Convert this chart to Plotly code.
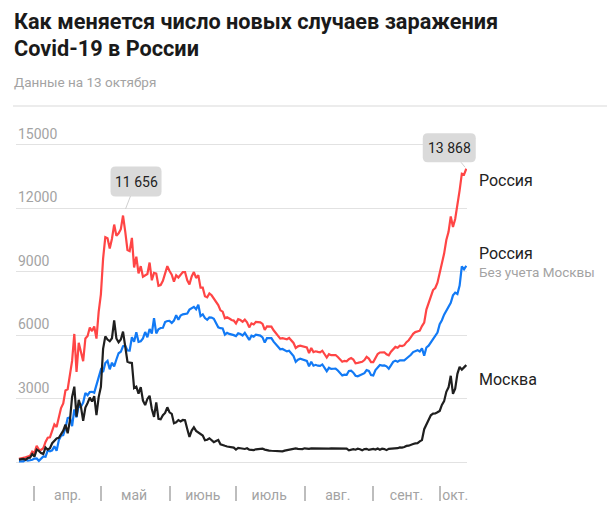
import pandas as pd
import plotly.graph_objects as go

# daily new cases, 25 Mar - 13 Oct 2020
dates = pd.date_range("2020-03-25", "2020-10-13", freq="D")

russia = [
    163, 182, 196, 228, 270, 302, 500,
    440, 771, 601, 582, 658, 954, 1154, 1175, 1459, 1786, 1667, 2186, 2558, 2774, 3388,
    3448, 4070, 4785, 6060, 4268, 5642, 5236, 4774, 5849, 5966, 6361, 6198, 6411, 5841, 7099,
    7933, 9623, 10633, 10581, 10102, 10559, 11231, 10699, 10817, 11012, 11656, 10899, 10028,
    9974, 10598, 9200, 9709, 8926, 9263, 8764, 8849, 8894, 9434, 8599, 8946, 8915, 8338, 8371,
    8572, 8952, 9268,
    9035, 8863, 8536, 8831, 8726, 8855, 8984, 8985, 8595, 8404, 8779, 8987, 8706, 8835, 8246,
    8248, 7843, 7790, 7972, 7889, 7728, 7600, 7425, 7176, 7113, 6800, 6852, 6791, 6719, 6693,
    6556, 6760, 6718, 6632, 6736, 6611, 6368, 6562, 6509, 6635, 6615, 6611, 6537, 6248, 6422,
    6428, 6406, 6234, 6109, 5940, 5842, 5862, 5848, 5811, 5871, 5765, 5635, 5395, 5475, 5509, 5482,
    5462, 5427, 5159, 5394, 5204, 5241, 5212, 5189, 5267, 5118, 4945, 5102, 5057, 5061, 5065,
    4969, 4839, 4748, 4790, 4767, 4870, 4921, 4852, 4676, 4696, 4711, 4744, 4829, 4980, 4897, 4729,
    4729, 4952, 5110, 5185, 5205, 5195, 5099, 5048, 5218, 5363, 5449, 5406, 5509, 5488, 5529,
    5670, 5762, 5905, 6065, 6148, 6196, 6215, 6431, 6595, 7212, 7523, 7867, 8135, 8232, 8481,
    8945, 9412, 9859, 10499, 10888, 11615, 11115, 11493, 12126, 12846, 13634, 13592, 13868,
]

moscow = [
    120, 136, 157, 114, 197, 212, 387,
    267, 595, 536, 434, 387, 697, 591, 660, 897, 1030, 1124, 1154, 1306, 1489, 1774,
    1370, 1959, 3083, 3570, 2151, 2950, 2612, 1959, 2580, 2800, 3050, 2870, 3125, 2220, 3075,
    3560, 5358, 5948, 5795, 5714, 5858, 6703, 5846, 5667, 5795, 6169, 5392, 4748,
    4703, 4691, 3505, 3570, 3238, 3545, 2913, 2697, 2988, 3140, 2516, 2140, 2830, 2054, 2030,
    2220, 2330, 2595,
    2358, 2286, 1842, 1882, 1990, 1925, 1995, 1986, 1572, 1195, 1492, 1645, 1477, 1393, 1338,
    1258, 1035, 1063, 1130, 1053, 948, 1000, 1049, 844, 794, 774, 742, 728, 705, 689,
    598, 672, 659, 643, 624, 659, 589, 582, 575, 608, 622, 629, 640, 596, 560,
    550, 541, 538, 519, 505, 506, 512, 548, 575, 603, 612, 621, 654, 631, 618, 616,
    655, 640, 630, 650, 645, 640, 650, 640, 648, 635, 642, 640, 650, 645, 640,
    638, 630, 645, 650, 640, 560, 600, 620, 590, 640, 610, 560, 620, 630, 580, 610,
    630, 600, 650, 590, 640, 620, 570, 630, 640, 620, 650, 660, 700, 690, 720,
    770, 780, 830, 860, 890, 900, 985, 1050, 1560, 1792, 2016, 2217, 2293, 2300, 2358,
    2424, 2704, 2884, 3327, 3537, 4082, 3229, 3478, 4176, 4501, 4375, 4480, 4590,
]

regions = [
    43, 46, 39, 114, 73, 90, 113,
    173, 176, 65, 148, 271, 257, 563, 515, 562, 756, 543, 1032, 1252, 1285, 1614,
    2078, 2111, 1702, 2490, 2117, 2692, 2624, 2815, 3269, 3166, 3311, 3328, 3286, 3621, 4024,
    4373, 4265, 4685, 4786, 4388, 4701, 4528, 4853, 5150, 5217, 5487, 5507, 5280,
    5271, 5907, 5695, 6139, 5688, 5718, 5851, 6152, 5906, 6294, 6083, 6806, 6085, 6284, 6341,
    6352, 6622, 6673,
    6677, 6577, 6694, 6949, 6736, 6930, 6989, 6999, 7023, 7209, 7287, 7342, 7229, 7442, 6908,
    6990, 6808, 6727, 6842, 6836, 6780, 6600, 6376, 6332, 6319, 6026, 6110, 6063, 6014, 6004,
    5958, 6088, 6059, 5989, 6112, 5952, 5779, 5980, 5934, 6027, 5993, 5982, 5897, 5652, 5862,
    5878, 5865, 5696, 5590, 5435, 5336, 5350, 5300, 5236, 5268, 5153, 5014, 4741, 4844, 4891, 4866,
    4807, 4787, 4529, 4744, 4559, 4601, 4562, 4549, 4619, 4483, 4303, 4462, 4407, 4416, 4425,
    4331, 4209, 4103, 4140, 4127, 4310, 4321, 4232, 4086, 4056, 4101, 4184, 4209, 4350, 4317, 4119,
    4099, 4352, 4460, 4595, 4565, 4575, 4529, 4418, 4578, 4743, 4799, 4746, 4809, 4798, 4809,
    4900, 4982, 5075, 5205, 5258, 5296, 5230, 5381, 5035, 5420, 5507, 5650, 5842, 5932, 6123,
    6521, 6708, 6975, 7172, 7351, 7533, 7886, 8015, 7950, 8345, 9259, 9112, 9278,
]

y_ticks = [0, 3000, 6000, 9000, 12000, 15000]
y_tick_labels = ["", "3000", "6000", "9000", "12000", "15000"]

month_starts = ["2020-04-01", "2020-05-01", "2020-06-01", "2020-07-01",
                "2020-08-01", "2020-09-01", "2020-10-01"]
month_mids = ["2020-04-16", "2020-05-16", "2020-06-16", "2020-07-16",
              "2020-08-16", "2020-09-16", "2020-10-08"]
month_labels = ["апр.", "май", "июнь", "июль", "авг.", "сент.", "окт."]

RED = "#ff4545"
BLUE = "#127af5"
BLACK = "#1f1f1f"
GREY = "#a3a3a3"
DARK = "#222222"
FONT = "Roboto"

# plot area in pixels: x 16..467, y 120..488 (room above 15000 for the callout box)
TOP, BOTTOM = 120, 488
PH = BOTTOM - TOP
x_range = [pd.Timestamp("2020-03-23 16:00"), pd.Timestamp("2020-10-13 08:00")]


def py(y_px):
    # page pixel row -> paper y
    return (BOTTOM - y_px) / PH


def x_frac(d):
    # date -> paper x, so callout boxes are not clipped by the plot edge
    return (d - x_range[0]) / (x_range[1] - x_range[0])


def rounded_box(cx, cy, w, h, r=5):
    # svg path in pixels around (cx, cy), y pointing up
    x0, x1, y0, y1 = cx - w / 2, cx + w / 2, cy - h / 2, cy + h / 2
    return (f"M{x0 + r},{y0} H{x1 - r} Q{x1},{y0} {x1},{y0 + r} V{y1 - r} "
            f"Q{x1},{y1} {x1 - r},{y1} H{x0 + r} Q{x0},{y1} {x0},{y1 - r} "
            f"V{y0 + r} Q{x0},{y0} {x0 + r},{y0} Z")


fig = go.Figure()
fig.add_trace(go.Scatter(x=dates, y=russia, mode="lines", line=dict(color=RED, width=2.2)))
fig.add_trace(go.Scatter(x=dates, y=regions, mode="lines", line=dict(color=BLUE, width=2.2)))
fig.add_trace(go.Scatter(x=dates, y=moscow, mode="lines", line=dict(color=BLACK, width=2.2)))

last = dates[-1]
peak_i = russia.index(max(russia[:100]))

notes = [
    # right-hand labels
    dict(x=last, y=russia[-1], text="Россия", yshift=-12, font=dict(size=16, color=DARK)),
    dict(x=last, y=regions[-1], text="Россия", yshift=12, font=dict(size=16, color=DARK)),
    dict(x=last, y=regions[-1], text="Без учета Москвы", yshift=-6,
         font=dict(size=13.5, color=GREY)),
    dict(x=last, y=moscow[-1], text="Москва", yshift=-14, font=dict(size=16, color=DARK)),
]
for n in notes:
    n.update(xanchor="left", yanchor="middle", xshift=11, showarrow=False,
             font=dict(family=FONT, **n["font"]))

# value callouts: (x, y, offset of box centre in px, box size, arrow standoff)
callout_spec = [
    (dates[peak_i], russia[peak_i], 13, -34, 51, 30, 7),
    (last, russia[-1], -17, -21, 53, 29, 2),
]
callouts, boxes = [], []
for cx, cy, ax, ay, w, h, stand in callout_spec:
    callouts.append(dict(
        x=cx, y=cy, text=f"{cy:,}".replace(",", " "),
        showarrow=True, arrowhead=0, arrowwidth=1, arrowcolor="#d0d0d0",
        ax=ax, ay=ay, standoff=stand, borderpad=6,
        font=dict(family=FONT, size=14, color=DARK),
    ))
    boxes.append(dict(
        type="path", xref="paper", yref="y", xsizemode="pixel", ysizemode="pixel",
        xanchor=x_frac(cx), yanchor=cy, path=rounded_box(ax, -ay, w, h),
        fillcolor="#dadada", line=dict(width=0), layer="above",
    ))

ylabels = [
    dict(x=0, xref="paper", y=v, yref="y", text=t, xanchor="left", yanchor="middle",
         yshift=11, showarrow=False, font=dict(family=FONT, size=14, color=GREY))
    for v, t in zip(y_ticks, y_tick_labels) if t
]

header = [
    dict(text="<b>Как меняется число новых случаев заражения</b>", y=py(21),
         font=dict(family=FONT, size=21.7, color="#1a1a1a")),
    dict(text="<b>Covid-19 в России</b>", y=py(48),
         font=dict(family=FONT, size=21.7, color="#1a1a1a")),
    dict(text="Данные на 13 октября", y=py(82),
         font=dict(family=FONT, size=13.5, color=GREY)),
]
for h in header:
    h.update(xref="paper", yref="paper", x=-4 / 451, xanchor="left", yanchor="middle",
             showarrow=False)

# 3000 cases per 64 px, zero at row 465
per_px = 3000 / 64
y_range = [-(BOTTOM - 465) * per_px, (465 - TOP) * per_px]

fig.update_layout(
    width=607, height=515,
    margin=dict(l=16, r=140, t=TOP, b=515 - BOTTOM),
    paper_bgcolor="white", plot_bgcolor="white",
    showlegend=False,
    font=dict(family=FONT),
    annotations=header + ylabels + notes + callouts,
    shapes=[
        dict(type="line", xref="paper", yref="paper",
             x0=-3 / 451, x1=591 / 451, y0=py(106), y1=py(106),
             line=dict(color="#e6e6e6", width=1.5)),
    ] + boxes,
    xaxis=dict(
        range=x_range,
        tickmode="array", tickvals=month_mids, ticktext=month_labels,
        ticks="", showgrid=False, zeroline=False, showline=False,
        tickfont=dict(family=FONT, size=14, color=GREY),
        minor=dict(tickmode="array", tickvals=month_starts, ticks="outside",
                   ticklen=15, tickwidth=1.5, tickcolor="#bdbdbd", showgrid=False),
    ),
    yaxis=dict(
        range=y_range,
        tickmode="array", tickvals=y_ticks, showticklabels=False, ticks="",
        showgrid=True, gridcolor="#e2e2e2", gridwidth=1,
        zeroline=False, showline=False,
    ),
)

# the page body has a default 8px margin; drop it so the figure sits at the window corner
fig.write_html("out.html", config={"displayModeBar": False},
               post_script="document.body.style.margin='0px';")
